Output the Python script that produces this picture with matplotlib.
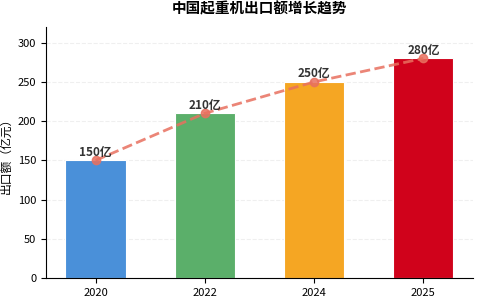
import matplotlib
matplotlib.use('Agg')
import matplotlib.pyplot as plt

plt.rcParams['font.family'] = ['Noto Sans CJK SC', 'DejaVu Sans']
plt.rcParams['axes.unicode_minus'] = False

years = ['2020', '2022', '2024', '2025']
values = [150, 210, 250, 280]
labels = ['150亿', '210亿', '250亿', '280亿']
colors = ['#4A90D9', '#5BAF6A', '#F5A623', '#D0021B']

fig = plt.figure(figsize=(4.8, 3), dpi=100)
ax = fig.add_axes([0.096, 0.073, 0.889, 0.837])

x = range(len(years))
ax.bar(x, values, width=0.55, color=colors, edgecolor='white', linewidth=0.8, zorder=2)
ax.plot(x, values, color='#E8705F', linestyle='--', linewidth=2, alpha=0.85,
        marker='o', markersize=6, zorder=3)
for i, v in enumerate(values):
    ax.text(i, v + 2, labels[i], ha='center', va='bottom', fontsize=8.5,
            fontweight='bold', color='#333333', zorder=4)

ax.set_xticks(list(x))
ax.set_xticklabels(years)
ax.set_ylim(0, 320)
ax.set_yticks([0, 50, 100, 150, 200, 250, 300])
ax.set_ylabel('出口额（亿元）', fontsize=8.5)
ax.tick_params(labelsize=8)
ax.set_title('中国起重机出口额增长趋势', fontsize=10.5, fontweight='bold', pad=10)
ax.grid(axis='y', linestyle='--', alpha=0.2, zorder=0)
ax.set_axisbelow(True)
ax.spines['top'].set_visible(False)
ax.spines['right'].set_visible(False)

plt.savefig('out.png', dpi=100)
